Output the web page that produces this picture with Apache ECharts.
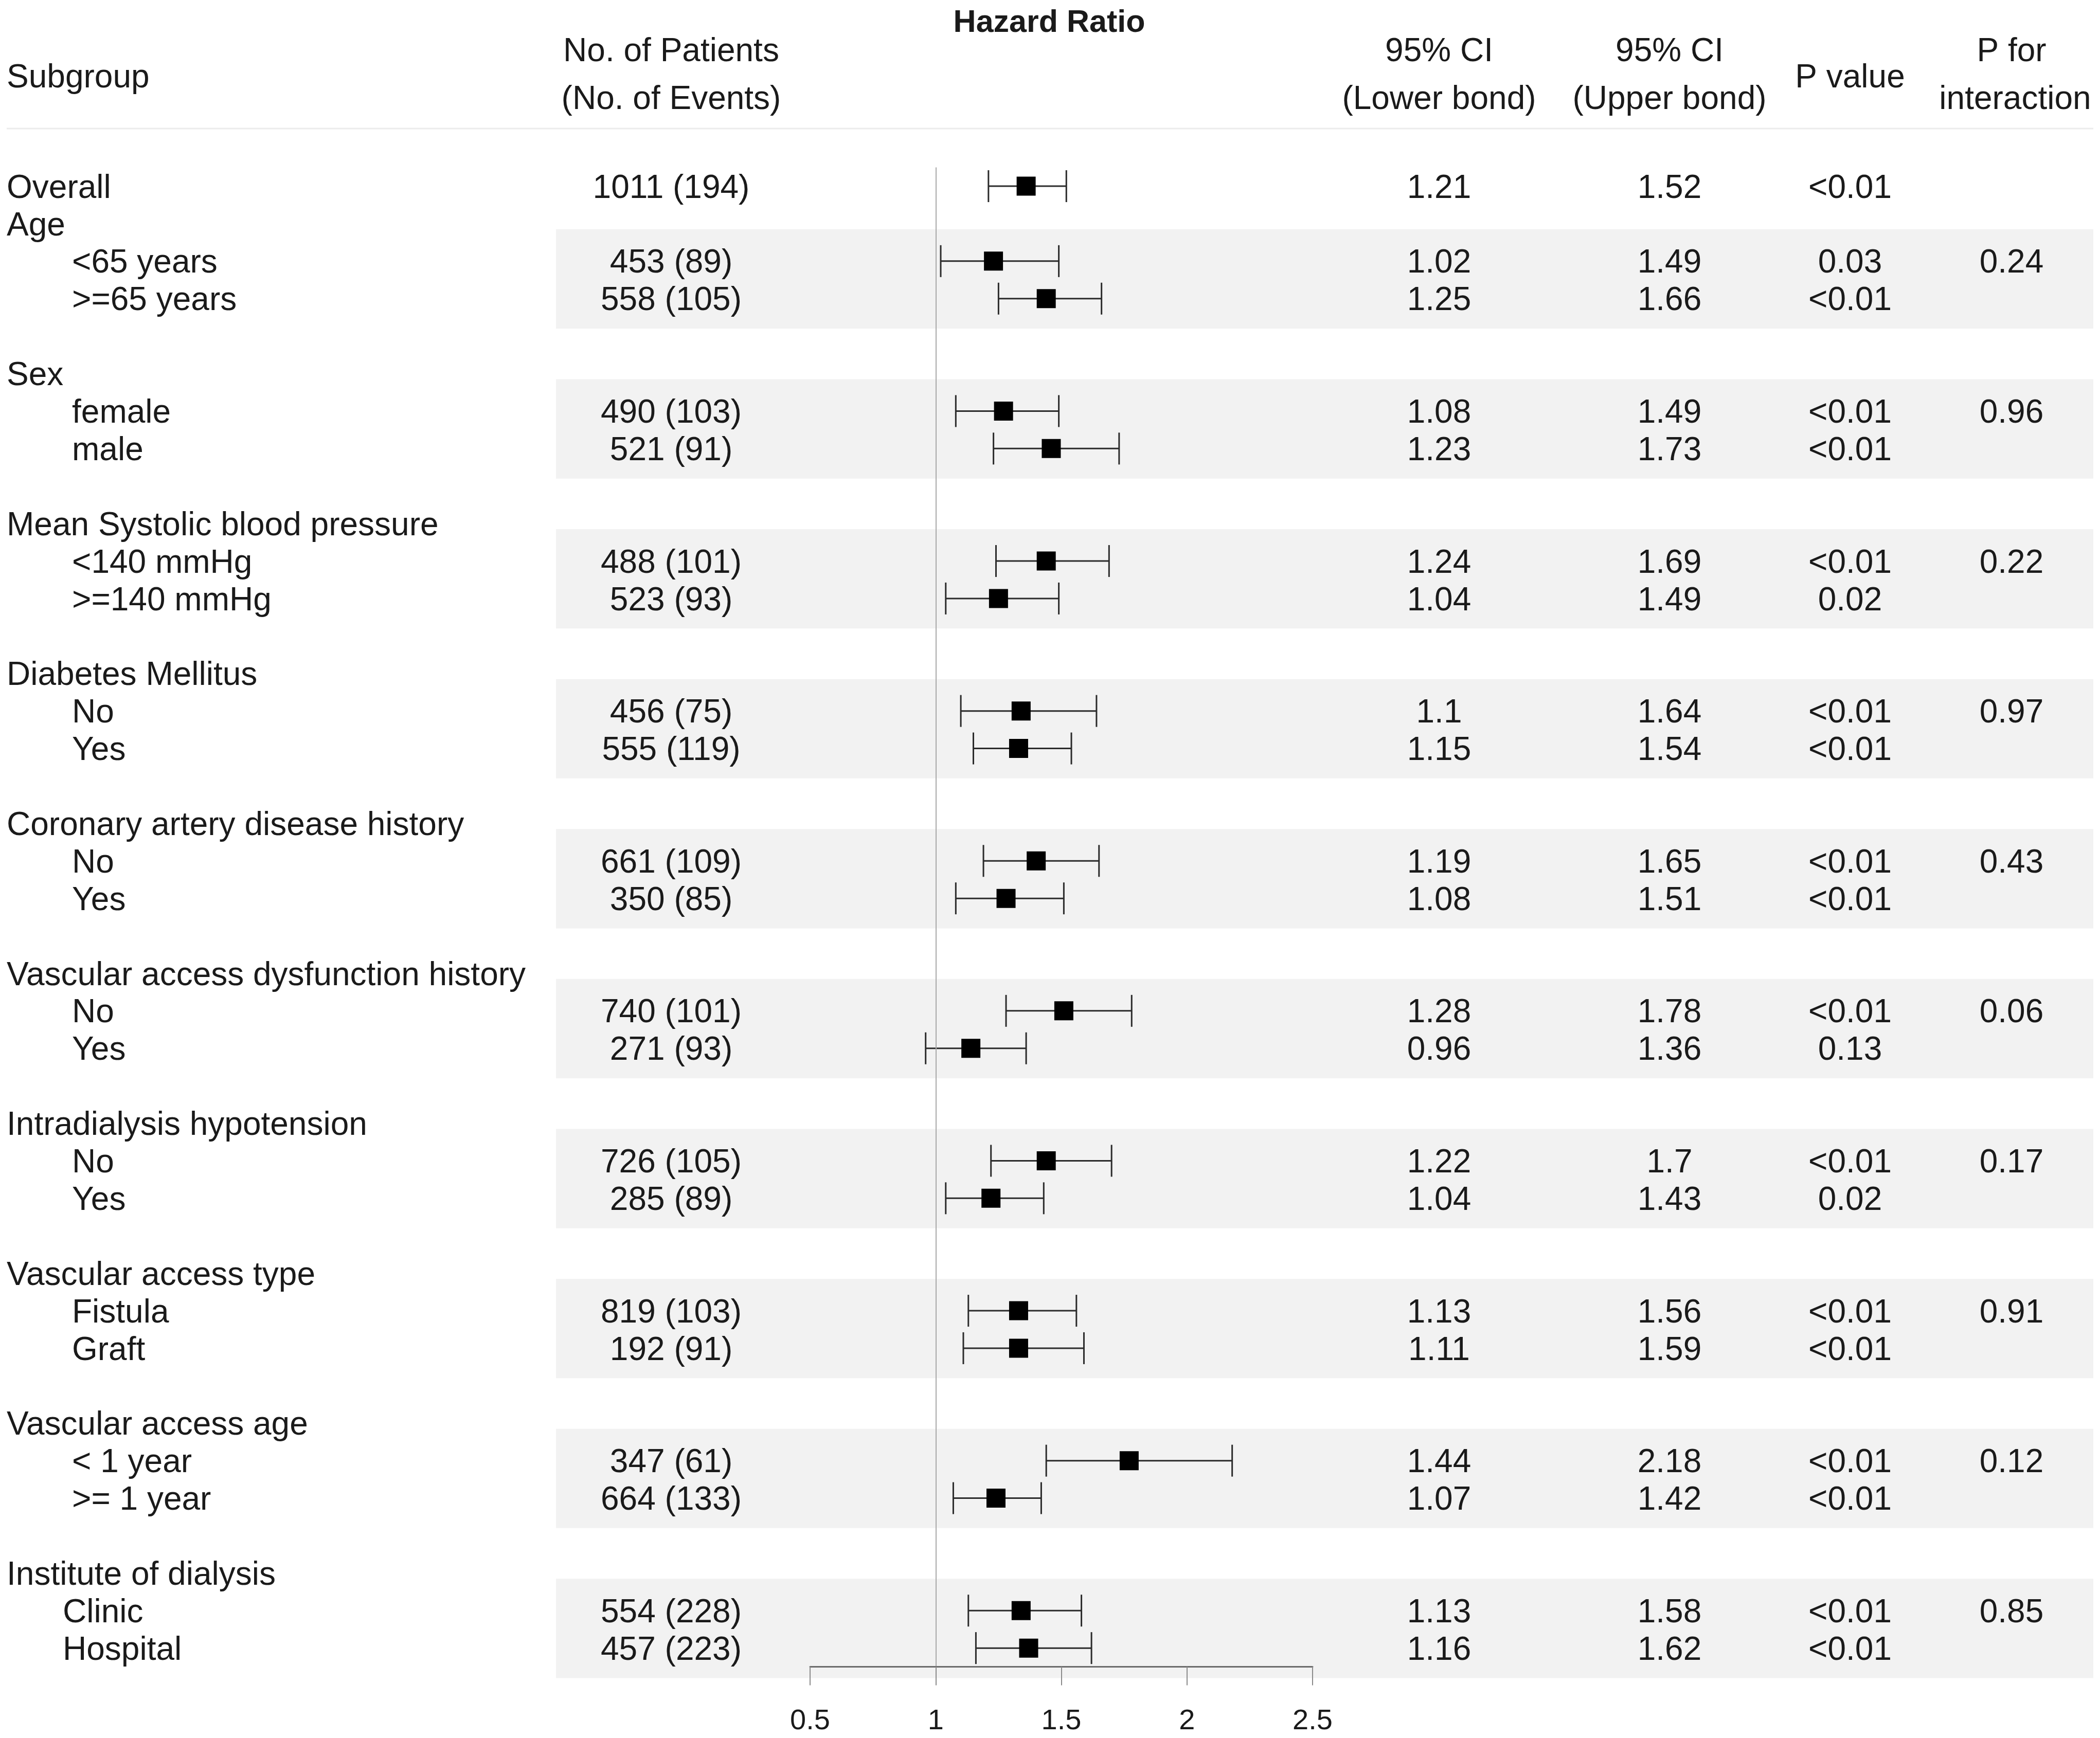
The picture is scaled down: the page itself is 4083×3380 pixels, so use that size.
<!DOCTYPE html>
<html lang="en">
<head>
    <meta charset="UTF-8">
    <title>Subgroup forest plot</title>
    <style>
        html, body {
            margin: 0;
            padding: 0;
            background: #fff;
        }

        #container {
            width: 4083px;
            height: 3380px;
        }
    </style>
    <script src="https://cdn.jsdelivr.net/npm/echarts@6.0.0/dist/echarts.min.js"></script>
</head>
<body>
<div id="container"></div>
<script type="text/javascript">
    // one entry per table row, '' = empty spacer row
    var rowLabels = ['Overall', 'Age', '<65 years', '>=65 years', '',
        'Sex', 'female', 'male', '',
        'Mean Systolic blood pressure', '<140 mmHg', '>=140 mmHg', '',
        'Diabetes Mellitus', 'No', 'Yes', '',
        'Coronary artery disease history', 'No', 'Yes', '',
        'Vascular access dysfunction history', 'No', 'Yes', '',
        'Intradialysis hypotension', 'No', 'Yes', '',
        'Vascular access type', 'Fistula', 'Graft', '',
        'Vascular access age', '< 1 year', '>= 1 year', '',
        'Institute of dialysis', 'Clinic', 'Hospital'];

    // rows that carry an estimate
    var estRows = [0, 2, 3, 6, 7, 10, 11, 14, 15, 18, 19, 22, 23, 26, 27, 30, 31, 34, 35, 38, 39];
    var patients = ['1011 (194)', '453 (89)', '558 (105)', '490 (103)', '521 (91)', '488 (101)', '523 (93)',
        '456 (75)', '555 (119)', '661 (109)', '350 (85)', '740 (101)', '271 (93)', '726 (105)', '285 (89)',
        '819 (103)', '192 (91)', '347 (61)', '664 (133)', '554 (228)', '457 (223)'];
    var hazard = [1.36, 1.23, 1.44, 1.27, 1.46, 1.44, 1.25, 1.34, 1.33, 1.40, 1.28, 1.51, 1.14,
        1.44, 1.22, 1.33, 1.33, 1.77, 1.24, 1.34, 1.37];
    var ciLower = [1.21, 1.02, 1.25, 1.08, 1.23, 1.24, 1.04, 1.1, 1.15, 1.19, 1.08, 1.28, 0.96,
        1.22, 1.04, 1.13, 1.11, 1.44, 1.07, 1.13, 1.16];
    var ciUpper = [1.52, 1.49, 1.66, 1.49, 1.73, 1.69, 1.49, 1.64, 1.54, 1.65, 1.51, 1.78, 1.36,
        1.7, 1.43, 1.56, 1.59, 2.18, 1.42, 1.58, 1.62];
    var pValue = ['<0.01', '0.03', '<0.01', '<0.01', '<0.01', '<0.01', '0.02', '<0.01', '<0.01', '<0.01',
        '<0.01', '<0.01', '0.13', '<0.01', '0.02', '<0.01', '<0.01', '<0.01', '<0.01', '<0.01', '<0.01'];

    // interaction p, one per subgroup (shown on its first level)
    var groupRows = [[2, 3], [6, 7], [10, 11], [14, 15], [18, 19], [22, 23], [26, 27], [30, 31], [34, 35], [38, 39]];
    var pInteraction = ['0.24', '0.96', '0.22', '0.97', '0.43', '0.06', '0.17', '0.91', '0.12', '0.85'];

    var xTicks = [0.5, 2.5, 0.5]; // min, max, interval

    var FONT = '"Liberation Sans", Arial, sans-serif';
    var TXT = '#1a1a1a';
    var FS = 64;
    var DY = 5; // nudge text onto the cap-height centre

    function txt(x, y, s, align, extra) {
        var st = {
            text: s, x: 0, y: 0, fontSize: FS, fontFamily: FONT, fill: TXT,
            align: align, textAlign: align, verticalAlign: 'middle', textVerticalAlign: 'middle'
        };
        if (extra) for (var k in extra) st[k] = extra[k];
        return {type: 'text', x: x, y: y + DY, style: st, silent: true};
    }

    // column of text on the table grid, texts[i] on row rows[i]
    function textColumn(rows, texts, xPos, align) {
        return {
            type: 'custom',
            xAxisIndex: 1,
            yAxisIndex: 1,
            z: 2,
            silent: true,
            clip: false,
            data: rows.map(function (r, i) {
                return [typeof xPos === 'function' ? xPos(i) : xPos, r];
            }),
            renderItem: function (params, api) {
                var p = api.coord([api.value(0), api.value(1)]);
                return txt(p[0], p[1], String(texts[params.dataIndex]), align);
            }
        };
    }

    var labelRows = [], labelTexts = [];
    rowLabels.forEach(function (s, i) {
        if (s) { labelRows.push(i); labelTexts.push(s); }
    });
    var isLevel = function (r) { return r > 0 && estRows.indexOf(r) >= 0; };

    var dom = document.getElementById('container');
    var myChart = echarts.init(dom, null, {renderer: 'canvas'});

    var option = {
        animation: false,
        backgroundColor: '#fff',
        grid: [
            {left: 1575, width: 977, top: 325.6, height: 2916},          // forest panel
            {left: 0, width: 4083, top: 289.1, height: 3025.4}           // table
        ],
        xAxis: [{
            type: 'value', gridIndex: 0, min: xTicks[0], max: xTicks[1], interval: xTicks[2], z: 10,
            splitLine: {show: false},
            axisLine: {show: true, onZero: false, lineStyle: {color: '#6b6b6b', width: 3}},
            axisTick: {show: true, inside: false, length: 36, lineStyle: {color: '#8a8a8a', width: 2}},
            axisLabel: {margin: 78, fontSize: 56, fontFamily: FONT, color: TXT}
        }, {
            type: 'value', gridIndex: 1, min: 0, max: 4083, show: false
        }],
        yAxis: [
            {type: 'value', gridIndex: 0, min: -0.5, max: 39.5, inverse: true, show: false},
            {type: 'value', gridIndex: 1, min: -1, max: 40.5, inverse: true, show: false}
        ],
        graphic: [
            txt(13, 147, 'Subgroup', 'left'),
            txt(1305, 96, 'No. of Patients', 'center'),
            txt(1305, 189, '(No. of Events)', 'center'),
            txt(2040, 40, 'Hazard Ratio', 'center', {fontSize: 61, fontWeight: 'bold'}),
            txt(2798, 96, '95% CI', 'center'),
            txt(2798, 189, '(Lower bond)', 'center'),
            txt(3246, 96, '95% CI', 'center'),
            txt(3246, 189, '(Upper bond)', 'center'),
            txt(3597, 147, 'P value', 'center'),
            txt(3911, 96, 'P for', 'center'),
            txt(3918, 189, 'interaction', 'center'),
            {type: 'line', shape: {x1: 13, y1: 250, x2: 4070, y2: 250}, style: {stroke: '#ececec', lineWidth: 3}, silent: true}
        ],
        series: [
            // shaded bands behind each subgroup's levels
            {
                type: 'custom', xAxisIndex: 1, yAxisIndex: 1, z: 0, silent: true,
                data: groupRows.map(function (g) { return [1081, 4070, g[0] - 0.85, g[1] + 0.8]; }),
                renderItem: function (params, api) {
                    var a = api.coord([api.value(0), api.value(2)]);
                    var b = api.coord([api.value(1), api.value(3)]);
                    return {type: 'rect', shape: {x: a[0], y: a[1], width: b[0] - a[0], height: b[1] - a[1]},
                        style: {fill: '#f2f2f2'}};
                }
            },
            textColumn(labelRows, labelTexts, function (i) {
                var r = labelRows[i];
                if (!isLevel(r)) return 13;
                return r >= 38 ? 122 : 140;
            }, 'left'),
            textColumn(estRows, patients, 1305, 'center'),
            textColumn(estRows, ciLower, 2798, 'center'),
            textColumn(estRows, ciUpper, 3246, 'center'),
            textColumn(estRows, pValue, 3597, 'center'),
            textColumn(groupRows.map(function (g) { return g[0]; }), pInteraction, 3911, 'center'),
            // confidence intervals
            {
                type: 'custom', xAxisIndex: 0, yAxisIndex: 0, z: 3, silent: true,
                data: estRows.map(function (r, i) { return [ciLower[i], ciUpper[i], r]; }),
                renderItem: function (params, api) {
                    var lo = api.coord([api.value(0), api.value(2)]);
                    var hi = api.coord([api.value(1), api.value(2)]);
                    var st = {stroke: '#2b2b2b', lineWidth: 3};
                    return {
                        type: 'group', children: [
                            {type: 'line', shape: {x1: lo[0], y1: lo[1], x2: hi[0], y2: hi[1]}, style: st},
                            {type: 'line', shape: {x1: lo[0], y1: lo[1] - 31, x2: lo[0], y2: lo[1] + 31}, style: st},
                            {type: 'line', shape: {x1: hi[0], y1: hi[1] - 31, x2: hi[0], y2: hi[1] + 31}, style: st}
                        ]
                    };
                }
            },
            // point estimates + line of no effect
            {
                type: 'scatter', xAxisIndex: 0, yAxisIndex: 0, z: 4, silent: true,
                symbol: 'rect', symbolSize: [37, 37],
                itemStyle: {color: '#000', opacity: 1},
                data: estRows.map(function (r, i) { return [hazard[i], r]; }),
                markLine: {
                    silent: true, symbol: 'none', animation: false,
                    label: {show: false},
                    lineStyle: {color: '#a8a8a8', width: 2, type: 'solid'},
                    data: [{xAxis: 1}]
                }
            }
        ]
    };

    myChart.setOption(option);
</script>
</body>
</html>
